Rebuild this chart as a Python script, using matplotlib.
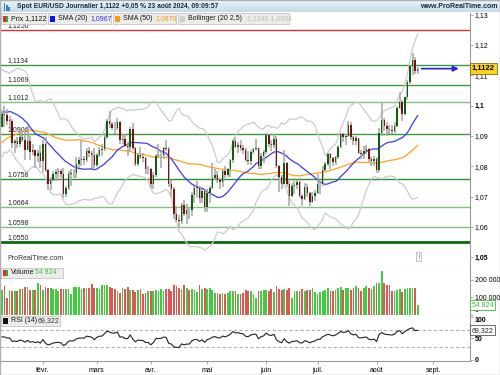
import matplotlib
matplotlib.use('Agg')
import matplotlib.pyplot as plt
import numpy as np
import pandas as pd
from matplotlib.patches import Rectangle
from matplotlib.transforms import blended_transform_factory
from matplotlib.colors import LinearSegmentedColormap

# ---------------- data ----------------
prior_closes = [1.0575,
    1.0570,1.0620,1.0727,1.0720,1.0698,1.0709,1.0668,1.0685,1.0700,1.0880,1.0850,1.0852,1.0913,1.0940,1.0910,1.0890,1.0905,1.0940,1.0955,1.0997,1.0970,1.0888,
    1.0884,1.0835,1.0796,1.0764,1.0795,1.0762,1.0764,1.0793,1.0875,1.0990,1.0895,1.0924,1.0981,1.0944,1.1010,1.1011,1.1025,1.1042,1.1104,1.1062,1.1039,
    1.0940,1.0920,1.0947,1.0941,1.0950,1.0929]

closes = [
    1.0973,1.0970,1.0950,1.0950,1.0877,1.0884,1.0873,1.0897,1.0886,1.0855,1.0883,1.0846,1.0854,1.0833,1.0845,1.0818,
    1.0873,1.0787,1.0742,1.0755,1.0773,1.0780,1.0784,1.0773,1.0708,1.0728,1.0773,1.0777,1.0778,1.0807,1.0821,1.0823,1.0820,1.0851,1.0844,1.0838,1.0804,
    1.0838,1.0855,1.0857,1.0898,1.0948,1.0938,1.0927,1.0926,1.0946,1.0885,1.0890,1.0867,1.0865,1.0922,1.0861,1.0808,1.0837,1.0831,1.0828,1.0790,1.0792,
    1.0740,1.0770,1.0835,1.0837,1.0838,1.0861,1.0856,1.0742,1.0726,1.0642,1.0624,1.0618,1.0672,1.0643,1.0656,1.0655,1.0704,1.0729,1.0729,1.0694,1.0719,1.0665,
    1.0713,1.0727,1.0760,1.0771,1.0754,1.0748,1.0783,1.0771,1.0790,1.0821,1.0883,1.0865,1.0870,1.0859,1.0855,1.0822,1.0818,1.0847,1.0857,1.0859,1.0800,1.0834,1.0848,
    1.0902,1.0875,1.0869,1.0890,1.0801,1.0765,1.0740,1.0812,1.0740,1.0703,1.0735,1.0738,1.0749,1.0701,1.0692,1.0733,1.0713,1.0683,1.0702,1.0713,
    1.0740,1.0742,1.0789,1.0809,1.0839,1.0826,1.0815,1.0830,1.0864,1.0907,1.0895,1.0901,1.0937,1.0896,1.0882,1.0893,1.0845,1.0841,1.0850,1.0856,1.0823,1.0816,1.0825,
    1.0789,1.0911,1.0953,1.0932,1.0923,1.0920,1.0916,1.0934,1.0992,1.1013,1.0972,1.1027,1.1077,1.1130,1.1151,1.1113,1.1122]

highs = [
    1.0986,1.0998,1.0990,1.0965,1.0955,1.0890,1.0895,1.0915,1.0915,1.0915,1.0932,1.0900,1.0873,1.0850,1.0855,1.0870,
    1.0888,1.0895,1.0790,1.0765,1.0785,1.0790,1.0795,1.0790,1.0795,1.0735,1.0785,1.0790,1.0790,1.0830,1.0830,1.0888,1.0835,1.0860,1.0865,1.0850,1.0860,
    1.0845,1.0865,1.0875,1.0910,1.0955,1.0981,1.0945,1.0945,1.0960,1.0950,1.0905,1.0905,1.0880,1.0930,1.0942,1.0865,1.0845,1.0865,1.0845,1.0830,1.0800,
    1.0795,1.0780,1.0840,1.0875,1.0850,1.0865,1.0885,1.0865,1.0755,1.0730,1.0670,1.0640,1.0680,1.0690,1.0675,1.0665,1.0715,1.0735,1.0750,1.0735,1.0725,1.0720,
    1.0725,1.0735,1.0810,1.0790,1.0785,1.0760,1.0790,1.0800,1.0795,1.0825,1.0890,1.0895,1.0880,1.0885,1.0870,1.0860,1.0850,1.0855,1.0860,1.0890,1.0860,1.0845,1.0855,
    1.0910,1.0905,1.0885,1.0905,1.0900,1.0805,1.0770,1.0852,1.0815,1.0750,1.0745,1.0760,1.0755,1.0760,1.0710,1.0745,1.0740,1.0715,1.0715,1.0720,
    1.0775,1.0750,1.0800,1.0815,1.0845,1.0845,1.0830,1.0835,1.0870,1.0910,1.0910,1.0905,1.0948,1.0945,1.0900,1.0900,1.0890,1.0855,1.0868,1.0870,1.0860,1.0830,1.0835,
    1.0830,1.0925,1.1008,1.0960,1.0945,1.0935,1.0935,1.0945,1.1000,1.1045,1.1020,1.1030,1.1085,1.1135,1.1175,1.1160,1.1128]

lows = [
    1.0935,1.0930,1.0935,1.0930,1.0860,1.0845,1.0860,1.0865,1.0880,1.0820,1.0852,1.0820,1.0838,1.0795,1.0815,1.0795,
    1.0780,1.0780,1.0722,1.0722,1.0750,1.0750,1.0760,1.0760,1.0695,1.0700,1.0720,1.0735,1.0762,1.0762,1.0795,1.0802,1.0805,1.0815,1.0830,1.0795,1.0795,
    1.0798,1.0830,1.0835,1.0850,1.0890,1.0925,1.0920,1.0905,1.0920,1.0875,1.0875,1.0865,1.0835,1.0850,1.0855,1.0800,1.0800,1.0825,1.0815,1.0775,1.0775,
    1.0728,1.0725,1.0765,1.0830,1.0795,1.0825,1.0850,1.0730,1.0700,1.0625,1.0615,1.0601,1.0610,1.0635,1.0610,1.0625,1.0635,1.0680,1.0695,1.0680,1.0680,1.0650,
    1.0650,1.0680,1.0725,1.0755,1.0745,1.0725,1.0730,1.0760,1.0765,1.0765,1.0810,1.0860,1.0845,1.0850,1.0840,1.0815,1.0805,1.0805,1.0840,1.0850,1.0790,1.0790,1.0810,
    1.0840,1.0865,1.0850,1.0860,1.0795,1.0715,1.0725,1.0740,1.0730,1.0668,1.0700,1.0710,1.0725,1.0695,1.0670,1.0690,1.0700,1.0668,1.0680,1.0685,
    1.0710,1.0710,1.0735,1.0785,1.0800,1.0790,1.0800,1.0805,1.0825,1.0860,1.0880,1.0870,1.0895,1.0885,1.0870,1.0870,1.0840,1.0825,1.0825,1.0840,1.0815,1.0800,1.0800,
    1.0777,1.0780,1.0900,1.0915,1.0900,1.0905,1.0905,1.0910,1.0930,1.0990,1.0950,1.0970,1.1020,1.1070,1.1100,1.1105,1.1105]

volumes_k = [
    143,165,96,139,137,137,137,147,147,157,157,143,143,143,182,173,143,157,153,153,
    149,149,137,147,149,147,145,120,159,159,159,149,153,153,153,176,151,151,149,169,
    169,169,159,155,149,137,127,155,149,161,141,141,131,141,147,116,125,135,135,135,
    143,135,149,135,145,149,135,169,165,153,149,171,151,139,149,139,131,169,149,155,
    149,151,143,125,123,121,123,121,125,137,135,133,116,118,125,143,
    137,137,121,96,135,135,139,143,135,145,131,163,145,139,145,143,151,96,135,135,
    135,145,135,139,143,151,131,118,131,135,141,153,137,135,143,151,161,139,155,155,
    141,155,163,151,135,153,165,153,147,167,180,184,253,184,171,171,137,137,141,145,
    131,145,151,151,151,151,54.824]

levels = [1.1134, 1.1069, 1.1012, 1.0906, 1.0758, 1.0664, 1.0598, 1.0550]
level_colors = ['#3c9c3c', '#3c9c3c', '#7cc47c', '#3c9c3c', '#2f8f2f', '#7cc47c', '#7cc47c', '#0b6b0b']
level_widths = [1.0, 1.0, 1.0, 1.0, 1.0, 1.0, 1.0, 2.0]
resistance = 1.1250
price_ticks = [1.05, 1.06, 1.07, 1.08, 1.09, 1.10, 1.11, 1.12, 1.13]
price_tick_labels = ['1,05', '1,06', '1,07', '1,08', '1,09', '1,1', '1,11', '1,12', '1,13']
month_labels = ['févr.', 'mars', 'avr.', 'mai', 'juin', 'juil.', 'août', 'sept.']

# ---------------- derived ----------------
n = len(closes)
idx = np.arange(n)
c = np.array(closes)
o = np.concatenate([[prior_closes[-1]], c[:-1]])
h = np.array(highs)
l = np.array(lows)
vol = np.array(volumes_k) * 1000

allc = pd.Series(prior_closes + closes)
sma20 = allc.rolling(20).mean().values[-n:]
sma50 = allc.rolling(50).mean().values[-n:]
std20 = allc.rolling(20).std(ddof=0).values[-n:]
bb_up = sma20 + 2.5 * std20
bb_dn = sma20 - 2.5 * std20
delta = allc.diff()
gain = delta.clip(lower=0).ewm(alpha=1/14, adjust=False).mean()
loss = (-delta.clip(upper=0)).ewm(alpha=1/14, adjust=False).mean()
rsi = (100 - 100 / (1 + gain / loss)).values[-n:]

ext = pd.bdate_range('2024-01-10', '2024-09-30')
tick_idx = [np.where(ext.month == m)[0][0] for m in range(2, 10)]

# ---------------- figure ----------------
W, H = 500, 375
fig = plt.figure(figsize=(5, 3.75), dpi=100)
plt.rcParams['font.family'] = ['Liberation Sans', 'DejaVu Sans']

def rect(x0, y0, x1, y1):
    return [x0 / W, 1 - y1 / H, (x1 - x0) / W, (y1 - y0) / H]

XL = (-0.74, 182.4)
GRAY = '#9a9a9a'

def style_axis(ax):
    for s in ['left', 'top']:
        ax.spines[s].set_visible(False)
    for s in ['right', 'bottom']:
        ax.spines[s].set_color(GRAY)
        ax.spines[s].set_linewidth(0.8)
    ax.yaxis.tick_right()
    ax.tick_params(axis='y', direction='out', length=2, width=0.6, color=GRAY,
                   pad=1.5, labelsize=5)
    ax.set_xlim(*XL)
    ax.set_xticks([])

# main price panel
ax = fig.add_axes(rect(0, 13, 470, 266))
style_axis(ax)
ax.set_ylim(1.04709, 1.13056)
ax.set_yticks(price_ticks, price_tick_labels)
for t in ax.get_yticklabels():
    if t.get_text() in ('1,1', '1,05'):
        t.set_fontweight('bold')

ax.axhline(resistance, color='#e03232', lw=1.0, zorder=1)
ax.text(2, resistance + 0.0003, '1,1250', fontsize=5, color='#222222', va='bottom', ha='left')
for lev, col, lw in zip(levels, level_colors, level_widths):
    ax.axhline(lev, color=col, lw=lw, zorder=1)
    ax.text(2, lev + 0.0004, f'{lev:.4f}'.replace('.', ','), fontsize=5,
            color='#222222', va='bottom', ha='left', zorder=2)

ax.plot(idx, bb_up, color='#cccccc', lw=0.9, zorder=2)
ax.plot(idx, bb_dn, color='#cccccc', lw=0.9, zorder=2)
ax.plot(idx, sma50, color='#ffa21f', lw=0.9, zorder=2)
ax.plot(idx, sma20, color='#3b3bf0', lw=0.9, zorder=2)

ax.vlines(idx, l, h, color='#a5a5a5', lw=1.1, zorder=3)
up = c >= o
body_lo = np.minimum(o, c)
body_h = np.maximum(np.abs(c - o), 0.00012)
ax.bar(idx[up], body_h[up], bottom=body_lo[up], width=0.6, color='#0d5e0d', lw=0, zorder=4)
ax.bar(idx[~up], body_h[~up], bottom=body_lo[~up], width=0.6, color='#7a1010', lw=0, zorder=4)

last = closes[-1]
ax.annotate('', xy=(178.0, last), xytext=(163.5, last),
            arrowprops=dict(arrowstyle='-|>', color='#2323d8', lw=1.2, mutation_scale=8,
                            shrinkA=0, shrinkB=0), zorder=5)
tr = blended_transform_factory(ax.transAxes, ax.transData)
ax.text(1.004, last, '1,1122', transform=tr, fontsize=5.5, fontweight='bold', va='center',
        ha='left', color='black', zorder=10, clip_on=False,
        bbox=dict(boxstyle='square,pad=0.25', fc='#ffd21a', ec='#807020', lw=0.6))
ax.text(2, 1.0485, 'ProRealTime.com', fontsize=5, color='#333333', va='bottom', ha='left')
ax.text(162.5, 1.0495, 'i', fontsize=4.5, color='#666666', va='bottom', ha='center',
        bbox=dict(boxstyle='square,pad=0.3', fc='#f4f4f4', ec='#aaaaaa', lw=0.5))

# volume panel
axv = fig.add_axes(rect(0, 266, 470, 314.5))
style_axis(axv)
axv.set_ylim(0, 280000)
vcol = np.where(up, '#3fcc3f', '#e05555')
axv.bar(idx, vol, width=0.68, color=vcol, lw=0)
axv.set_yticks([0, 100000, 200000], ['0', '100 000', '200 000'])
for t in axv.get_yticklabels():
    if t.get_text() == '0':
        t.set_va('bottom')
trv = blended_transform_factory(axv.transAxes, axv.transData)
axv.text(1.004, vol[-1], '54 824', transform=trv, fontsize=5, color='#3db83d', va='center',
         ha='left', zorder=10, clip_on=False,
         bbox=dict(boxstyle='square,pad=0.2', fc='white', ec='#3db83d', lw=0.6))

# RSI panel
axr = fig.add_axes(rect(0, 314.5, 470, 361))
style_axis(axr)
axr.set_ylim(-3.4, 106.9)
axr.axhline(70, color='#b0b0b0', lw=0.8, ls=(0, (3, 2)))
axr.axhline(30, color='#b0b0b0', lw=0.8, ls=(0, (3, 2)))
axr.plot(idx, rsi, color='#222222', lw=0.8)
axr.set_yticks([0, 50, 100], ['0', '50', '100'])
for t in axr.get_yticklabels():
    t.set_fontweight('bold')
    if t.get_text() == '100':
        t.set_va('top')
trr = blended_transform_factory(axr.transAxes, axr.transData)
axr.text(1.004, rsi[-1], '69,322', transform=trr, fontsize=5, color='#222222', va='center',
         ha='left', zorder=10, clip_on=False,
         bbox=dict(boxstyle='square,pad=0.2', fc='white', ec='#555555', lw=0.6))
axr.set_xticks(tick_idx, month_labels)
axr.tick_params(axis='x', direction='out', length=2, width=0.6, color=GRAY, labelsize=5, pad=2)

# ---------------- header ----------------
hdr = fig.add_axes(rect(0, 0, 500, 12.5))
grad = np.linspace(0, 1, 20).reshape(-1, 1)
cm = LinearSegmentedColormap.from_list('h', ['#f2f7fb', '#c6dbe8'])
hdr.imshow(grad, aspect='auto', cmap=cm, extent=[0, 1, 0, 1], origin='upper')
hdr.axis('off')
fig.text(17 / W, 1 - 6.5 / H, 'Spot EUR/USD Journalier 1,1122 +0,05 % 23 août 2024, 09:09:57',
         fontsize=4.8, fontweight='bold', color='#1a2a3a', va='center', ha='left')
fig.text(498 / W, 1 - 6.5 / H, 'www.ProRealTime.com', fontsize=5.0, fontweight='bold',
         color='#1a2a3a', va='center', ha='right')
for k, (yy, hh) in enumerate([(2, 8), (4, 6), (6, 4)]):
    fig.patches.append(Rectangle(((4 + 2.2 * k) / W, 1 - (yy + hh + 1) / H), 1.4 / W, hh / H,
                                 transform=fig.transFigure, fc='#3a7fc0', ec='none'))

def legend_box(x0, x1, y0, y1, parts, icon):
    fig.patches.append(Rectangle((x0 / W, 1 - y1 / H), (x1 - x0) / W, (y1 - y0) / H,
                                 transform=fig.transFigure, fc='#ececec', ec='#c4c4c4',
                                 lw=0.6, zorder=20))
    ym = (y0 + y1) / 2
    if icon == 'rg':
        fig.patches.append(Rectangle(((x0 + 2) / W, 1 - (ym + 3) / H), 2.5 / W, 6 / H,
                                     transform=fig.transFigure, fc='#d83030', ec='none', zorder=21))
        fig.patches.append(Rectangle(((x0 + 4.5) / W, 1 - (ym + 3) / H), 2.5 / W, 6 / H,
                                     transform=fig.transFigure, fc='#30b030', ec='none', zorder=21))
    else:
        fig.patches.append(Rectangle(((x0 + 2) / W, 1 - (ym + 3) / H), 5 / W, 6 / H,
                                     transform=fig.transFigure, fc=icon, ec='none', zorder=21))
    for txt, col, xoff in parts:
        fig.text((x0 + xoff) / W, 1 - ym / H, txt, fontsize=5, color=col, va='center',
                 ha='left', zorder=22)

legend_box(1, 46, 13.5, 24, [('Prix 1,1122', '#111111', 10)], 'rg')
legend_box(48, 111, 13.5, 24, [('SMA (20)', '#111111', 10), ('1,0967', '#3030e0', 42)], '#1010e8')
legend_box(113, 176, 13.5, 24, [('SMA (50)', '#111111', 10), ('1,0870', '#ff9900', 42)], '#ff9a10')
legend_box(178, 289, 13.5, 24, [('Bollinger (20 2,5)', '#111111', 10),
                                 ('1,1240 1,0694', '#bdbdbd', 69)], '#cfcfcf')
legend_box(1, 63, 268, 277.5, [('Volume', '#111111', 10), ('54 824', '#44c044', 34)], 'rg')
legend_box(1, 60, 316, 325.5, [('RSI (14)', '#111111', 10), ('69,322', '#333333', 37)], '#111111')

fig.patches.append(Rectangle((0, 0), 1, 1, transform=fig.transFigure, fc='none',
                             ec='#b0b0b0', lw=1.0, zorder=30))

fig.savefig('out.png', dpi=100)
